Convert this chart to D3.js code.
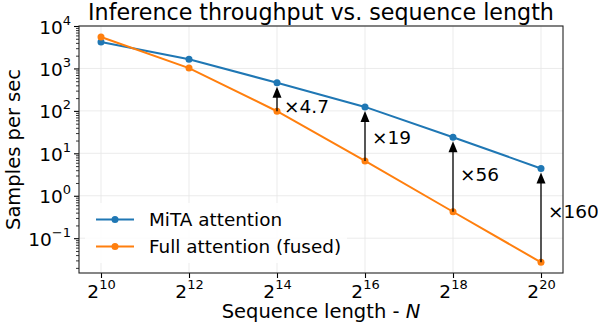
<!DOCTYPE html>
<html lang="en">
<head>
  <meta charset="UTF-8">
  <title>Inference throughput</title>
  <script src="https://d3js.org/d3.v7.min.js"></script>
  <style>
    body { margin: 0; background: #fff; }
    text { font-family: "DejaVu Sans", sans-serif; fill: #000; }
  </style>
</head>
<body>
  <script>
    // sequence length exponents (N = 2^k)
    var exponents = [10, 12, 14, 16, 18, 20];
    var mita = [4200, 1650, 460, 124, 24, 4.4];
    var full = [5500, 1020, 98, 6.6, 0.42, 0.027];
    var speedups = ["×4.7", "×19", "×56", "×160"];
    var speedupIdx = [2, 3, 4, 5];
    var speedupLabelAt = [130, 24, 3.1, 0.43];
    var yTickExps = [-1, 0, 1, 2, 3, 4];

    var w = 598, h = 327;
    var pl = 79, pr = 563, pt = 26, pb = 273;

    var xScale = d3.scaleLinear().domain([9.5, 20.5]).range([pl, pr]);
    var yScale = d3.scaleLog().domain([Math.pow(10, -1.82), 1e4]).range([pb, pt]);

    var svg = d3.select("body").append("svg")
      .attr("width", w).attr("height", h);

    // grid
    var grid = svg.append("g").attr("stroke", "#e6e6e6").attr("stroke-width", 0.8);
    grid.selectAll("line.gx").data(exponents).enter().append("line")
      .attr("x1", function(d) { return xScale(d); }).attr("x2", function(d) { return xScale(d); })
      .attr("y1", pt).attr("y2", pb);
    grid.selectAll("line.gy").data(yTickExps).enter().append("line")
      .attr("x1", pl).attr("x2", pr)
      .attr("y1", function(d) { return yScale(Math.pow(10, d)); })
      .attr("y2", function(d) { return yScale(Math.pow(10, d)); });

    // x axis
    var xAxis = d3.axisBottom(xScale).tickValues(exponents).tickSize(5).tickFormat("");
    var gx = svg.append("g").attr("transform", "translate(0," + pb + ")").call(xAxis);
    gx.select(".domain").remove();
    gx.selectAll(".tick line").attr("stroke-width", 1.1);
    gx.selectAll(".tick").append("text")
      .attr("y", 24.5).attr("text-anchor", "middle").attr("font-size", 18.5)
      .each(function(d) {
        var t = d3.select(this);
        t.append("tspan").text("2");
        t.append("tspan").attr("dy", -9).attr("font-size", 13).text(d);
      });

    // y axis: major + minor ticks
    var minor = [];
    for (var e = -2; e < 4; e++) {
      for (var m = 2; m < 10; m++) {
        var v = m * Math.pow(10, e);
        if (v >= yScale.domain()[0] && v <= 1e4) minor.push(v);
      }
    }
    var gyMinor = svg.append("g").attr("transform", "translate(" + pl + ",0)")
      .call(d3.axisLeft(yScale).tickValues(minor).tickSize(3).tickFormat(""));
    gyMinor.select(".domain").remove();
    gyMinor.selectAll(".tick line").attr("stroke-width", 0.8);

    var gy = svg.append("g").attr("transform", "translate(" + pl + ",0)")
      .call(d3.axisLeft(yScale).tickValues(yTickExps.map(function(d) { return Math.pow(10, d); }))
        .tickSize(5).tickFormat(""));
    gy.select(".domain").remove();
    gy.selectAll(".tick line").attr("stroke-width", 1.1);
    gy.selectAll(".tick").append("text")
      .attr("x", -8).attr("y", 7).attr("text-anchor", "end").attr("font-size", 18.5)
      .each(function(d) {
        var t = d3.select(this);
        var ex = Math.round(Math.log10(d));
        t.append("tspan").text("10");
        t.append("tspan").attr("dy", -9).attr("font-size", 13)
          .text(ex < 0 ? "\u2212" + (-ex) : ex);
      });

    // lines
    var line = d3.line()
      .x(function(d, i) { return xScale(exponents[i]); })
      .y(function(d) { return yScale(d); });

    [[mita, "#1f77b4"], [full, "#ff7f0e"]].forEach(function(s) {
      svg.append("path").datum(s[0]).attr("d", line)
        .attr("fill", "none").attr("stroke", s[1]).attr("stroke-width", 2);
      svg.selectAll(null).data(s[0]).enter().append("circle")
        .attr("cx", function(d, i) { return xScale(exponents[i]); })
        .attr("cy", function(d) { return yScale(d); })
        .attr("r", 3.5).attr("fill", s[1]);
    });

    // speedup arrows
    speedupIdx.forEach(function(idx, j) {
      var x = xScale(exponents[idx]);
      var y0 = yScale(full[idx]);
      var y1 = yScale(mita[idx]) + 4;
      svg.append("line").attr("x1", x).attr("x2", x).attr("y1", y0).attr("y2", y1 + 10)
        .attr("stroke", "#000").attr("stroke-width", 1.3);
      svg.append("path")
        .attr("d", "M" + (x - 4.5) + "," + (y1 + 11) + "L" + x + "," + y1 + "L" + (x + 4.5) + "," + (y1 + 11) + "Z")
        .attr("fill", "#000");
      svg.append("text").attr("x", x + 7).attr("y", yScale(speedupLabelAt[j]) + 6.5)
        .attr("font-size", 18.5).text(speedups[j]);
    });

    // frame
    svg.append("rect").attr("x", pl).attr("y", pt)
      .attr("width", pr - pl).attr("height", pb - pt)
      .attr("fill", "none").attr("stroke", "#222").attr("stroke-width", 1.1);

    // legend
    var leg = svg.append("g");
    leg.append("rect").attr("x", 85).attr("y", 203).attr("width", 262).attr("height", 60)
      .attr("fill", "#fff").attr("opacity", 0.85);
    [["MiTA attention", "#1f77b4"], ["Full attention (fused)", "#ff7f0e"]].forEach(function(s, i) {
      var y = 219.5 + i * 27;
      leg.append("line").attr("x1", 96).attr("x2", 134).attr("y1", y).attr("y2", y)
        .attr("stroke", s[1]).attr("stroke-width", 2);
      leg.append("circle").attr("cx", 115).attr("cy", y).attr("r", 3.5).attr("fill", s[1]);
      leg.append("text").attr("x", 149).attr("y", y + 6.5).attr("font-size", 18.4).text(s[0]);
    });

    // titles
    svg.append("text").attr("x", (pl + pr) / 2).attr("y", 20)
      .attr("text-anchor", "middle").attr("font-size", 22.2)
      .text("Inference throughput vs. sequence length");
    var xl = svg.append("text").attr("x", (pl + pr) / 2).attr("y", 318)
      .attr("text-anchor", "middle").attr("font-size", 19.5);
    xl.append("tspan").text("Sequence length - ");
    xl.append("tspan").attr("font-style", "italic").text("N");
    svg.append("text")
      .attr("transform", "translate(20," + ((pt + pb) / 2) + ") rotate(-90)")
      .attr("text-anchor", "middle").attr("font-size", 19.5)
      .text("Samples per sec");
  </script>
</body>
</html>
